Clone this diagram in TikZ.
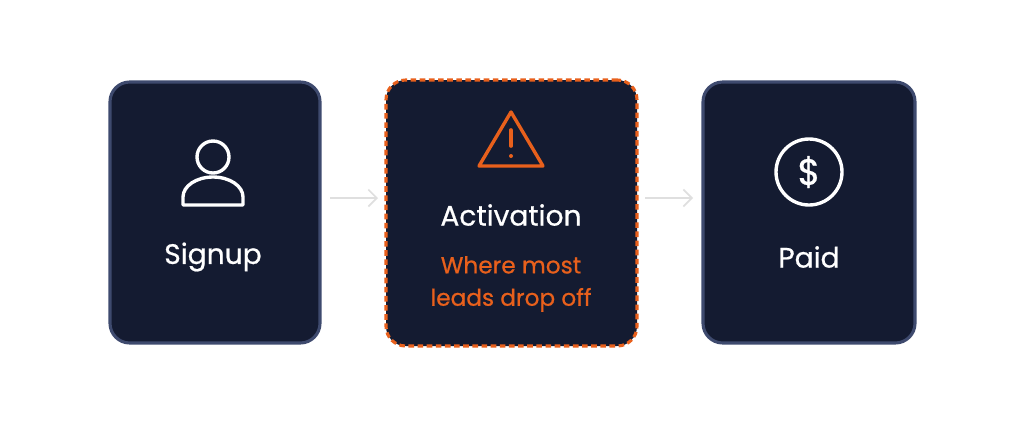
\documentclass[tikz,border=0pt]{standalone}
\usepackage{fontspec}
\setmainfont{Poppins}[FakeBold=0.7]
\begin{document}
\begin{tikzpicture}[x=0.025cm,y=-0.025cm,
  box/.style={draw=borderc,line width=2.2pt,fill=navy,rounded corners=14pt,inner sep=0pt},
  lbl/.style={text=white,font=\fontsize{20}{22}\selectfont},
  sub/.style={text=orng,font=\fontsize{16.5}{23}\selectfont,align=center},
  arr/.style={draw=gray!25,line width=1.2pt,-{Straight Barb[length=6pt,width=12pt]}},
  ic/.style={draw=white,line width=2.4pt,line cap=round,line join=round}]
\usetikzlibrary{arrows.meta}
\definecolor{navy}{HTML}{141B31}
\definecolor{borderc}{HTML}{3E4A6E}
\definecolor{orng}{HTML}{E8601C}
\useasboundingbox (0,0) rectangle (1024,437);
\node[box,minimum width=210*0.025cm,minimum height=261*0.025cm] (s) at (215,212.5) {};
\node[box,draw=orng,dashed,dash pattern=on 4pt off 2.5pt,minimum width=251*0.025cm,minimum height=266*0.025cm] (a) at (511.5,213) {};
\node[box,minimum width=212*0.025cm,minimum height=261*0.025cm] (p) at (809,212.5) {};
\draw[arr] (330,198) -- (378,198);
\draw[arr] (645,198) -- (693,198);
% person
\draw[ic] (213,157) circle (16);
\draw[ic] (183,205) -- (183,197) arc (180:360:30 and 20) -- (243,205) -- cycle;
\node[lbl] (st) at (213,257) {Signup};
% warning
\draw[draw=orng,line width=2.4pt,line join=round] (511,112) -- (543,166) -- (479,166) -- cycle;
\draw[draw=orng,line width=2.6pt,line cap=round] (511,130) -- (511,146);
\fill[orng] (511,156) circle (2);
\node[lbl] (at) at (511,215) {Activation};
\node[sub] (as) at (511,284) {Where most\\leads drop off};
% dollar
\draw[ic] (809,172) circle (33);
\node[text=white,font=\fontsize{26}{26}\selectfont] (d) at (809,172) {\$};
\node[lbl] (pt) at (809,257) {Paid};
\end{tikzpicture}
\end{document}
